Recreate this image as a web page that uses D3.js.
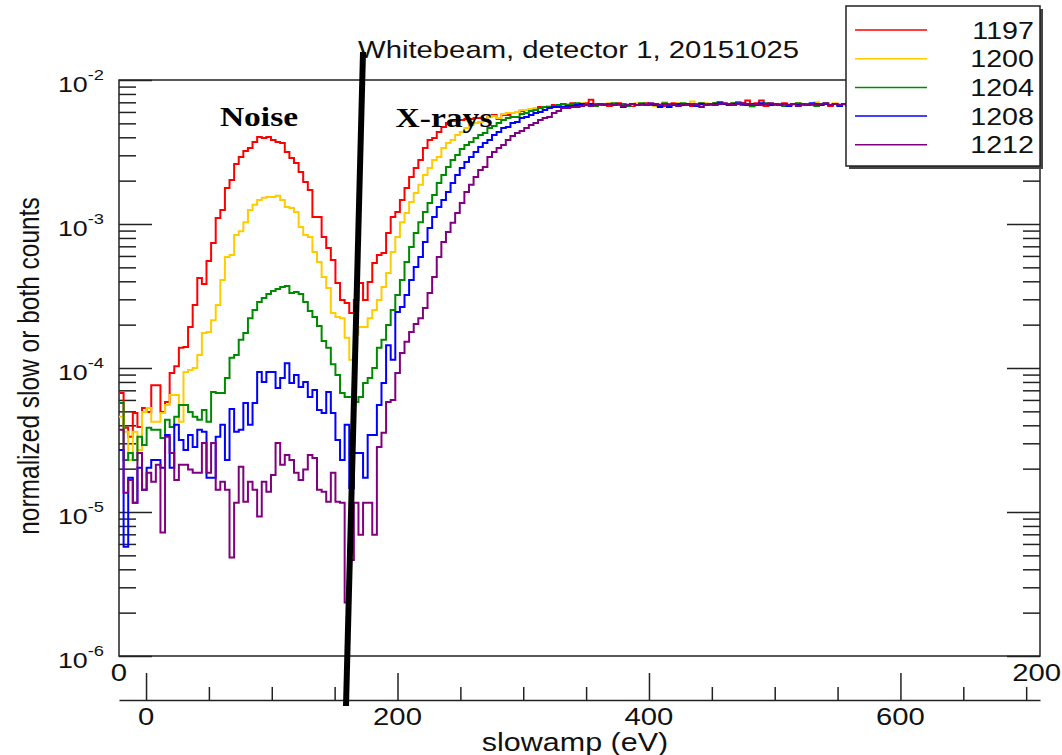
<!DOCTYPE html>
<html>
<head>
<meta charset="utf-8">
<script src="https://cdn.jsdelivr.net/npm/d3@7"></script>
<style>
  body { margin: 0; background: #fff; }
  svg { font-family: "Liberation Sans", Arial, sans-serif; }
</style>
</head>
<body>
<svg id="chart" width="1062" height="755"></svg>
<script>
// ---- data -------------------------------------------------------------
var runs = ["1197", "1200", "1204", "1208", "1212"];
var runColors = ["#ff0000", "#ffcc00", "#008a00", "#0000ff", "#800080"];

var nBins = 200;
var binAxisLabels = [0, 200];
var evDomain = [-21.5, 711];
var evMajorTicks = [0, 200, 400, 600];
var yDecades = [1e-6, 1e-5, 1e-4, 1e-3, 1e-2];

var counts1197 = [
  6.7e-5, 3.84e-5, 3.33e-5, 4.87e-5, 3.9e-5, 5.27e-5, 4.95e-5, 7.6e-5, 7.6e-5, 4.95e-5,
  5.8e-5, 9.24e-5, 1.03e-4, 1.38e-4, 1.4e-4, 1.93e-4, 2.74e-4, 4.22e-4, 3.83e-4, 5.54e-4,
  7.38e-4, 1.1e-3, 1.25e-3, 1.78e-3, 2.02e-3, 2.61e-3, 2.92e-3, 3.21e-3, 3.37e-3, 3.71e-3,
  4.02e-3, 3.96e-3, 4.02e-3, 3.83e-3, 3.71e-3, 3.65e-3, 3.16e-3, 2.87e-3, 2.65e-3, 2.3e-3,
  1.96e-3, 1.72e-3, 1.12e-3, 1.12e-3, 8.13e-4, 6.81e-4, 5.62e-4, 3.89e-4, 2.97e-4, 2.83e-4,
  2.41e-4, 2.97e-4, 3.89e-4, 2.97e-4, 3.96e-4, 5.36e-4, 6.09e-4, 6.3e-4, 8.66e-4, 1.12e-3,
  1.21e-3, 1.47e-3, 1.78e-3, 2.12e-3, 2.45e-3, 2.78e-3, 3.37e-3, 3.83e-3, 3.96e-3, 4.36e-3,
  4.72e-3, 5.03e-3, 5.19e-3, 5.28e-3, 5.28e-3, 5.36e-3, 5.36e-3, 5.45e-3, 5.45e-3, 5.28e-3,
  5.53e-3, 5.71e-3, 5.36e-3, 5.71e-3, 5.71e-3, 5.9e-3, 6.0e-3, 6.1e-3, 6.19e-3, 6.29e-3,
  6.29e-3, 6.49e-3, 6.49e-3, 6.6e-3, 6.71e-3, 6.71e-3, 6.8e-3, 6.7e-3, 6.9e-3, 6.8e-3,
  6.6e-3, 6.9e-3, 7.3e-3, 6.8e-3, 6.7e-3, 6.8e-3, 6.6e-3, 6.8e-3, 6.9e-3, 6.7e-3,
  6.8e-3, 6.6e-3, 6.8e-3, 6.7e-3, 6.9e-3, 6.8e-3, 6.7e-3, 6.8e-3, 6.6e-3, 6.8e-3,
  6.9e-3, 6.7e-3, 6.8e-3, 6.8e-3, 6.6e-3, 6.8e-3, 6.9e-3, 6.7e-3, 6.8e-3, 6.9e-3,
  7.0e-3, 6.8e-3, 6.7e-3, 6.9e-3, 7.0e-3, 6.9e-3, 7.2e-3, 6.8e-3, 6.9e-3, 7.2e-3,
  6.6e-3, 6.8e-3, 6.7e-3, 6.8e-3, 6.9e-3, 6.7e-3, 6.8e-3, 6.6e-3, 6.8e-3, 6.7e-3,
  6.8e-3, 6.9e-3, 6.7e-3, 6.8e-3, 6.6e-3, 6.8e-3, 6.7e-3, 6.8e-3, 6.9e-3, 6.7e-3,
  6.8e-3, 6.6e-3, 6.8e-3, 6.7e-3, 6.9e-3, 6.8e-3, 6.7e-3, 6.8e-3, 6.6e-3, 6.8e-3,
  6.9e-3, 6.7e-3, 6.8e-3, 6.7e-3, 6.6e-3, 6.8e-3, 6.9e-3, 6.7e-3, 6.8e-3, 6.6e-3,
  6.7e-3, 6.8e-3, 6.9e-3, 6.7e-3, 6.8e-3, 6.6e-3, 6.8e-3, 6.7e-3, 6.9e-3, 6.8e-3,
  6.7e-3, 6.6e-3, 6.8e-3, 6.7e-3, 6.8e-3, 6.9e-3, 6.7e-3, 6.8e-3, 6.6e-3, 6.7e-3
];

var counts1200 = [
  4.59e-5, 3.61e-5, 2.3e-5, 3.61e-5, 2.7e-5, 4.95e-5, 5.27e-5, 4.23e-5, 4.23e-5, 4.87e-5,
  5.53e-5, 6.49e-5, 6.49e-5, 4.23e-5, 9.39e-5, 9.69e-5, 1.0e-4, 1.23e-4, 1.75e-4, 1.78e-4,
  2.15e-4, 2.74e-4, 4.08e-4, 5.9e-4, 6.09e-4, 8.39e-4, 8.9e-4, 1.03e-3, 1.25e-3, 1.36e-3,
  1.47e-3, 1.52e-3, 1.54e-3, 1.54e-3, 1.57e-3, 1.47e-3, 1.31e-3, 1.29e-3, 1.21e-3, 9.53e-4,
  8.39e-4, 8.13e-4, 6.4e-4, 5.45e-4, 4.29e-4, 3.6e-4, 2.41e-4, 2.26e-4, 2.22e-4, 1.62e-4,
  1.14e-4, 1.7e-4, 1.93e-4, 1.93e-4, 2.22e-4, 2.53e-4, 2.97e-4, 3.65e-4, 4.57e-4, 6.4e-4,
  8.13e-4, 1.03e-3, 1.19e-3, 1.42e-3, 1.64e-3, 1.87e-3, 2.19e-3, 2.45e-3, 2.78e-3, 2.92e-3,
  3.37e-3, 3.65e-3, 3.83e-3, 4.15e-3, 4.36e-3, 4.64e-3, 4.87e-3, 5.03e-3, 5.11e-3, 5.36e-3,
  5.53e-3, 5.62e-3, 5.45e-3, 5.81e-3, 5.9e-3, 5.9e-3, 6.0e-3, 6.19e-3, 6.19e-3, 6.29e-3,
  6.39e-3, 6.39e-3, 6.49e-3, 6.6e-3, 6.6e-3, 6.71e-3, 6.7e-3, 6.8e-3, 6.6e-3, 6.8e-3,
  6.9e-3, 6.7e-3, 6.8e-3, 6.6e-3, 6.8e-3, 6.7e-3, 6.9e-3, 6.8e-3, 6.7e-3, 6.5e-3,
  6.8e-3, 6.7e-3, 6.9e-3, 6.8e-3, 6.7e-3, 6.8e-3, 6.6e-3, 6.8e-3, 7.0e-3, 6.7e-3,
  6.8e-3, 6.9e-3, 6.7e-3, 6.8e-3, 7.1e-3, 6.8e-3, 6.7e-3, 6.9e-3, 6.8e-3, 6.7e-3,
  6.9e-3, 6.8e-3, 6.7e-3, 6.8e-3, 6.9e-3, 6.8e-3, 6.7e-3, 6.5e-3, 6.8e-3, 6.7e-3,
  6.8e-3, 6.9e-3, 6.7e-3, 6.8e-3, 6.6e-3, 6.8e-3, 6.7e-3, 6.9e-3, 6.8e-3, 6.7e-3,
  6.8e-3, 7.0e-3, 6.7e-3, 6.8e-3, 6.7e-3, 6.9e-3, 6.8e-3, 6.7e-3, 6.6e-3, 6.8e-3,
  6.9e-3, 6.7e-3, 6.8e-3, 6.7e-3, 6.8e-3, 6.6e-3, 6.8e-3, 6.7e-3, 6.9e-3, 6.8e-3,
  6.7e-3, 6.8e-3, 6.6e-3, 6.8e-3, 6.9e-3, 6.7e-3, 6.8e-3, 6.7e-3, 6.8e-3, 6.9e-3,
  6.7e-3, 6.6e-3, 6.8e-3, 6.7e-3, 6.8e-3, 6.9e-3, 6.7e-3, 6.8e-3, 6.6e-3, 6.8e-3,
  6.7e-3, 6.9e-3, 6.8e-3, 6.7e-3, 6.8e-3, 6.7e-3, 6.8e-3, 6.7e-3, 6.9e-3, 6.8e-3
];

var counts1204 = [
  5.71e-5, 2.3e-5, 2.57e-5, 2.3e-5, 3.33e-5, 2.92e-5, 3.84e-5, 3.72e-5, 3.72e-5, 3.27e-5,
  4.37e-5, 3.9e-5, 4.59e-5, 5.53e-5, 5.53e-5, 4.95e-5, 4.59e-5, 4.37e-5, 5.11e-5, 4.23e-5,
  6.81e-5, 6.7e-5, 6.7e-5, 8.52e-5, 1.18e-4, 1.23e-4, 1.57e-4, 1.75e-4, 2.22e-4, 2.53e-4,
  2.87e-4, 3.06e-4, 3.26e-4, 3.42e-4, 3.54e-4, 3.65e-4, 3.71e-4, 3.32e-4, 3.37e-4, 3.26e-4,
  2.87e-4, 2.49e-4, 2.26e-4, 1.96e-4, 1.54e-4, 1.38e-4, 1.06e-4, 8.94e-5, 6.7e-5, 6.28e-5,
  6.28e-5, 5.8e-5, 6.28e-5, 7.86e-5, 8.52e-5, 1.0e-4, 1.38e-4, 1.57e-4, 1.99e-4, 2.53e-4,
  3.21e-4, 4.08e-4, 5.45e-4, 6.92e-4, 8.66e-4, 1.03e-3, 1.21e-3, 1.4e-3, 1.59e-3, 1.93e-3,
  2.19e-3, 2.49e-3, 2.78e-3, 3.01e-3, 3.32e-3, 3.54e-3, 3.71e-3, 3.96e-3, 4.15e-3, 4.29e-3,
  4.64e-3, 4.79e-3, 5.03e-3, 5.28e-3, 5.45e-3, 5.53e-3, 5.53e-3, 5.81e-3, 5.9e-3, 6.1e-3,
  6.19e-3, 6.39e-3, 6.49e-3, 6.49e-3, 6.6e-3, 6.71e-3, 6.8e-3, 6.7e-3, 6.8e-3, 6.9e-3,
  6.7e-3, 6.8e-3, 6.7e-3, 6.6e-3, 6.8e-3, 6.7e-3, 6.8e-3, 6.9e-3, 6.7e-3, 6.8e-3,
  6.6e-3, 6.8e-3, 6.7e-3, 6.9e-3, 6.8e-3, 6.7e-3, 6.8e-3, 6.7e-3, 6.9e-3, 6.8e-3,
  6.7e-3, 6.8e-3, 6.9e-3, 6.7e-3, 6.8e-3, 6.8e-3, 6.9e-3, 6.8e-3, 6.7e-3, 6.9e-3,
  7.0e-3, 6.8e-3, 6.7e-3, 6.9e-3, 6.8e-3, 6.7e-3, 6.8e-3, 6.6e-3, 6.8e-3, 6.7e-3,
  6.9e-3, 6.8e-3, 6.7e-3, 6.8e-3, 6.6e-3, 6.7e-3, 6.8e-3, 6.9e-3, 6.7e-3, 6.8e-3,
  6.7e-3, 6.6e-3, 6.8e-3, 6.9e-3, 6.7e-3, 6.8e-3, 6.7e-3, 6.8e-3, 6.6e-3, 6.8e-3,
  6.7e-3, 6.9e-3, 6.8e-3, 6.7e-3, 6.8e-3, 6.7e-3, 6.6e-3, 6.8e-3, 6.7e-3, 6.9e-3,
  6.8e-3, 6.7e-3, 6.8e-3, 6.6e-3, 6.8e-3, 6.7e-3, 6.9e-3, 6.8e-3, 6.7e-3, 6.8e-3,
  6.6e-3, 6.7e-3, 6.8e-3, 6.9e-3, 6.7e-3, 6.8e-3, 6.7e-3, 6.6e-3, 6.8e-3, 6.7e-3,
  6.8e-3, 6.9e-3, 6.7e-3, 6.8e-3, 6.6e-3, 6.8e-3, 6.7e-3, 6.8e-3, 6.7e-3, 6.9e-3
];

var counts1208 = [
  2.7e-5, 5.74e-6, 1.73e-5, 1.16e-5, 2.03e-5, 1.43e-5, 2.03e-5, 2.3e-5, 2.3e-5, 2.03e-5,
  3.43e-5, 2.03e-5, 4.03e-5, 3.16e-5, 2.7e-5, 3.43e-5, 2.83e-5, 3.72e-5, 3.61e-5, 1.73e-5,
  1.73e-5, 3.33e-5, 4.03e-5, 2.3e-5, 5.19e-5, 3.61e-5, 3.72e-5, 5.71e-5, 4.03e-5, 5.71e-5,
  9.39e-5, 7.99e-5, 9.39e-5, 9.39e-5, 7.26e-5, 8.52e-5, 1.08e-4, 7.86e-5, 8.94e-5, 7.38e-5,
  7.99e-5, 6.28e-5, 7.03e-5, 5.11e-5, 4.87e-5, 6.81e-5, 4.87e-5, 3.16e-5, 2.3e-5, 4.03e-5,
  1.47e-5, 2.57e-5, 2.57e-5, 1.73e-5, 3.43e-5, 3.43e-5, 5.53e-5, 7.86e-5, 1.44e-4, 1.14e-4,
  2.45e-4, 2.65e-4, 3.21e-4, 4.08e-4, 5.03e-4, 5.9e-4, 7.5e-4, 9.38e-4, 1.12e-3, 1.31e-3,
  1.47e-3, 1.67e-3, 1.93e-3, 2.19e-3, 2.45e-3, 2.7e-3, 2.92e-3, 3.16e-3, 3.43e-3, 3.65e-3,
  3.83e-3, 4.15e-3, 4.36e-3, 4.64e-3, 4.72e-3, 5.03e-3, 5.11e-3, 5.45e-3, 5.53e-3, 5.71e-3,
  5.9e-3, 6.0e-3, 6.19e-3, 6.39e-3, 6.49e-3, 6.49e-3, 6.5e-3, 6.6e-3, 6.6e-3, 6.7e-3,
  6.8e-3, 6.7e-3, 6.8e-3, 6.7e-3, 6.8e-3, 6.7e-3, 6.8e-3, 6.7e-3, 6.8e-3, 6.5e-3,
  6.7e-3, 6.8e-3, 6.7e-3, 6.8e-3, 6.7e-3, 6.8e-3, 6.7e-3, 6.5e-3, 6.8e-3, 6.5e-3,
  6.7e-3, 6.8e-3, 6.7e-3, 6.8e-3, 6.7e-3, 6.6e-3, 6.8e-3, 6.7e-3, 6.8e-3, 6.8e-3,
  6.9e-3, 6.8e-3, 6.7e-3, 6.8e-3, 6.9e-3, 6.8e-3, 6.7e-3, 6.8e-3, 6.7e-3, 6.9e-3,
  6.8e-3, 6.7e-3, 6.8e-3, 6.7e-3, 6.8e-3, 6.6e-3, 6.8e-3, 6.7e-3, 6.8e-3, 6.7e-3,
  6.9e-3, 6.8e-3, 6.7e-3, 6.8e-3, 6.7e-3, 6.8e-3, 6.6e-3, 6.8e-3, 6.7e-3, 6.8e-3,
  6.9e-3, 6.7e-3, 6.8e-3, 6.7e-3, 6.6e-3, 6.8e-3, 6.7e-3, 6.8e-3, 6.9e-3, 6.7e-3,
  6.8e-3, 6.7e-3, 6.8e-3, 6.6e-3, 6.8e-3, 6.7e-3, 6.8e-3, 6.7e-3, 6.9e-3, 6.8e-3,
  6.7e-3, 6.8e-3, 6.7e-3, 6.6e-3, 6.8e-3, 6.7e-3, 6.8e-3, 6.9e-3, 6.7e-3, 6.8e-3,
  6.7e-3, 6.8e-3, 6.6e-3, 6.8e-3, 6.7e-3, 6.8e-3, 6.7e-3, 6.9e-3, 6.8e-3, 6.7e-3
];

var counts1212 = [
  3.72e-5, 1.36e-5, 1.67e-5, 1.16e-5, 2.57e-5, 1.43e-5, 1.87e-5, 1.62e-5, 2.13e-5, 7.2e-6,
  3.33e-5, 2.57e-5, 1.67e-5, 2.13e-5, 2.13e-5, 1.97e-5, 1.87e-5, 1.87e-5, 3.02e-5, 1.87e-5,
  3.02e-5, 1.43e-5, 1.62e-5, 1.43e-5, 4.83e-6, 1.16e-5, 2.06e-5, 1.18e-5, 1.62e-5, 1.43e-5,
  9.3e-6, 1.62e-5, 1.38e-5, 1.81e-5, 3.02e-5, 2.13e-5, 2.49e-5, 2.3e-5, 1.87e-5, 1.67e-5,
  1.97e-5, 2.49e-5, 2.37e-5, 1.43e-5, 1.38e-5, 1.18e-5, 1.87e-5, 1.18e-5, 1.16e-5, 2.35e-6,
  4.64e-6, 1.16e-5, 6.95e-6, 1.16e-5, 1.16e-5, 6.95e-6, 2.83e-5, 3.55e-5, 5.8e-5, 5.99e-5,
  9.24e-5, 1.27e-4, 1.52e-4, 1.78e-4, 2.02e-4, 2.22e-4, 2.61e-4, 3.32e-4, 4.29e-4, 5.9e-4,
  7.5e-4, 8.8e-4, 1.02e-3, 1.19e-3, 1.4e-3, 1.67e-3, 1.87e-3, 2.12e-3, 2.37e-3, 2.49e-3,
  2.92e-3, 3.16e-3, 3.37e-3, 3.54e-3, 3.83e-3, 4.08e-3, 4.29e-3, 4.42e-3, 4.64e-3, 4.87e-3,
  5.03e-3, 5.28e-3, 5.45e-3, 5.53e-3, 5.9e-3, 6.1e-3, 6.39e-3, 6.39e-3, 6.49e-3, 6.49e-3,
  6.6e-3, 6.7e-3, 6.6e-3, 6.7e-3, 6.8e-3, 6.7e-3, 6.8e-3, 6.7e-3, 6.8e-3, 6.6e-3,
  6.7e-3, 6.8e-3, 6.7e-3, 6.8e-3, 6.7e-3, 6.9e-3, 6.8e-3, 6.7e-3, 6.8e-3, 6.7e-3,
  6.8e-3, 6.6e-3, 6.8e-3, 6.7e-3, 6.8e-3, 6.7e-3, 6.5e-3, 6.7e-3, 6.8e-3, 6.7e-3,
  6.8e-3, 6.9e-3, 6.8e-3, 6.7e-3, 6.8e-3, 6.9e-3, 6.8e-3, 6.7e-3, 6.8e-3, 6.7e-3,
  6.8e-3, 6.9e-3, 6.8e-3, 6.7e-3, 6.8e-3, 6.7e-3, 6.8e-3, 6.6e-3, 6.8e-3, 6.7e-3,
  6.8e-3, 6.7e-3, 6.8e-3, 6.9e-3, 6.7e-3, 6.8e-3, 6.7e-3, 6.8e-3, 6.6e-3, 6.8e-3,
  6.7e-3, 6.8e-3, 6.7e-3, 6.9e-3, 6.8e-3, 6.7e-3, 6.8e-3, 6.6e-3, 6.7e-3, 6.8e-3,
  6.9e-3, 6.7e-3, 6.8e-3, 6.7e-3, 6.8e-3, 6.6e-3, 6.8e-3, 6.7e-3, 6.9e-3, 6.8e-3,
  6.7e-3, 6.8e-3, 6.7e-3, 6.8e-3, 6.6e-3, 6.8e-3, 6.7e-3, 6.9e-3, 6.8e-3, 6.7e-3,
  6.8e-3, 6.7e-3, 6.8e-3, 6.6e-3, 6.8e-3, 6.7e-3, 6.9e-3, 6.8e-3, 6.7e-3, 6.8e-3
];

var allCounts = [counts1197, counts1200, counts1204, counts1208, counts1212];

// ---- layout -----------------------------------------------------------
var frame = { left: 119, right: 1040, top: 80, bottom: 656 };
var evAxisY = 700;
var SX = 1.22;   // the original canvas is stretched sideways, text too

var svg = d3.select("#chart");

var x = d3.scaleLinear().domain([0, nBins]).range([frame.left, frame.right]);
var xe = d3.scaleLinear().domain(evDomain).range([frame.left, frame.right]);
var y = d3.scaleLog().domain([1e-6, 1e-2]).range([frame.bottom, frame.top]);

function label(x0, y0, txt, size, anchor, extra) {
  var t = svg.append("text")
    .attr("transform", "translate(" + x0 + "," + y0 + ") scale(" + SX + ",1)" + (extra || ""))
    .attr("font-size", size)
    .attr("text-anchor", anchor || "start")
    .attr("fill", "#111")
    .text(txt);
  return t;
}

// frame
svg.append("rect")
  .attr("x", frame.left).attr("y", frame.top)
  .attr("width", frame.right - frame.left)
  .attr("height", frame.bottom - frame.top)
  .attr("fill", "none").attr("stroke", "#222").attr("stroke-width", 1.5);

// y ticks, left and right side
function isDecade(v) { return Math.abs(Math.log10(v) - Math.round(Math.log10(v))) < 1e-6; }

var leftAxis = svg.append("g")
  .attr("transform", "translate(" + frame.left + ",0)")
  .call(d3.axisRight(y).tickSizeOuter(0).tickFormat(""));
var rightAxis = svg.append("g")
  .attr("transform", "translate(" + frame.right + ",0)")
  .call(d3.axisLeft(y).tickSizeOuter(0).tickFormat(""));
[leftAxis, rightAxis].forEach(function(ax, k) {
  ax.select(".domain").remove();
  ax.selectAll(".tick line")
    .attr("stroke", "#222").attr("stroke-width", 1.5)
    .attr("x2", function(d) { return (isDecade(d) ? 33 : 17) * (k === 0 ? 1 : -1); });
});

// y decade labels 10^n
yDecades.forEach(function(v) {
  var t = label(104, y(v) + 12, "10", 22, "end");
  t.append("tspan").attr("dy", -12).attr("font-size", 15).text(String(Math.round(Math.log10(v))));
});

// bin-number labels under the frame
label(x(binAxisLabels[0]), frame.bottom + 25, String(binAxisLabels[0]), 24, "middle");
label(1061, frame.bottom + 25, String(binAxisLabels[1]), 24, "end");

// eV axis
var evAxis = svg.append("g")
  .attr("transform", "translate(0," + evAxisY + ")")
  .call(d3.axisTop(xe).tickValues(d3.range(0, 701, 50)).tickSizeOuter(0).tickFormat(""));
evAxis.select(".domain").attr("stroke", "#222").attr("stroke-width", 1.5);
evAxis.selectAll(".tick line")
  .attr("stroke", "#222").attr("stroke-width", 1.5)
  .attr("y2", function(d) { return evMajorTicks.indexOf(d) >= 0 ? -27 : -13; });
evMajorTicks.forEach(function(v) {
  label(xe(v), evAxisY + 25, String(v), 24, "middle");
});

// axis titles
label(575, 751, "slowamp (eV)", 25, "middle");
label(39, 366, "normalized slow or both counts", 24.5, "middle", " rotate(-90)");
label(358, 58, "Whitebeam, detector 1, 20151025", 24, "start");

// histograms
var step = d3.line()
  .x(function(d) { return x(d[0]); })
  .y(function(d) { return y(d[1]); })
  .curve(d3.curveStepAfter);

allCounts.forEach(function(vals, k) {
  var pts = vals.map(function(v, i) { return [i, v]; });
  pts.push([nBins, vals[nBins - 1]]);
  svg.append("path")
    .datum(pts)
    .attr("d", step)
    .attr("fill", "none")
    .attr("stroke", runColors[k])
    .attr("stroke-width", 2);
});

// annotations
function serif(x0, y0, txt) {
  label(x0, y0, txt, 27.5, "middle")
    .style("font-family", "'Liberation Serif', 'Times New Roman', serif")
    .style("font-weight", "bold")
    .attr("fill", "#000");
}
serif(259, 126, "Noise");
serif(444, 127, "X-rays");

svg.append("line")
  .attr("x1", 363).attr("y1", 52)
  .attr("x2", 346).attr("y2", 706)
  .attr("stroke", "#000").attr("stroke-width", 6);

// legend
var leg = { x: 846, y: 6, w: 194, h: 160 };
svg.append("rect")
  .attr("x", leg.x + 3).attr("y", leg.y + 3).attr("width", leg.w).attr("height", leg.h)
  .attr("fill", "#444");
svg.append("rect")
  .attr("x", leg.x).attr("y", leg.y).attr("width", leg.w).attr("height", leg.h)
  .attr("fill", "#fff").attr("stroke", "#222").attr("stroke-width", 1.5);
runs.forEach(function(r, k) {
  var cy = leg.y + 24 + k * 28.7;
  svg.append("line")
    .attr("x1", leg.x + 9).attr("x2", leg.x + 81)
    .attr("y1", cy).attr("y2", cy)
    .attr("stroke", runColors[k]).attr("stroke-width", 1.5);
  label(leg.x + 188, cy + 8.5, r, 23.5, "end");
});
</script>
</body>
</html>
